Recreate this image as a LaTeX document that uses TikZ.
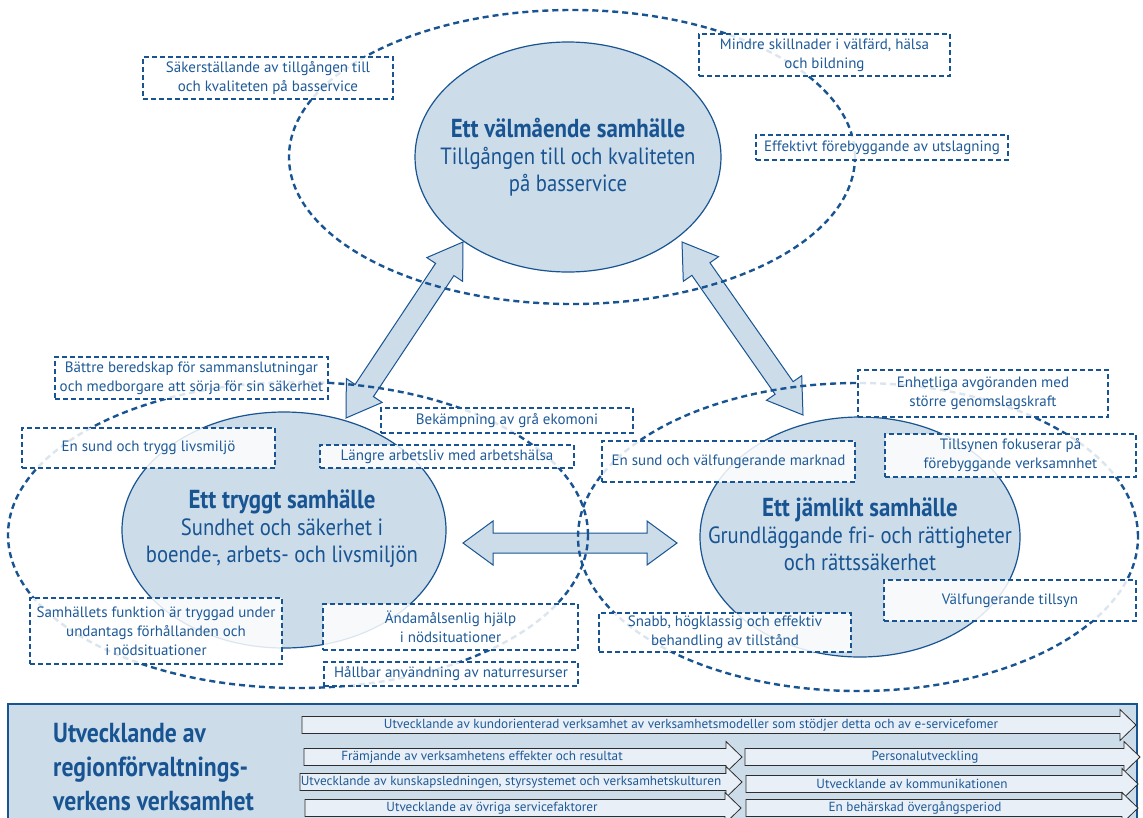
\documentclass[tikz,border=0pt]{standalone}
\usepackage{fontspec}
\setmainfont{PT Sans}
\newfontfamily\condfont[FakeStretch=0.88]{PT Sans}
\newfontfamily\narrowfont[FakeStretch=0.86]{PT Sans}
\usetikzlibrary{shapes.geometric,calc}
\definecolor{dblue}{RGB}{24,84,146}
\definecolor{tblue}{RGB}{30,90,152}
\definecolor{efill}{RGB}{204,220,233}
\definecolor{afill}{RGB}{233,239,246}
\definecolor{aline}{RGB}{45,45,45}
\tikzset{
 bigell/.style={ellipse, draw=dblue, line width=1.2pt, fill=efill, inner sep=0pt},
 dashell/.style={ellipse, draw=dblue, line width=2.4pt, dash pattern=on 6pt off 4pt, inner sep=0pt},
 dbox/.style={draw=dblue, line width=2.2pt, dash pattern=on 5pt off 3pt, fill=white, fill opacity=0.85, text opacity=1, text=tblue, font=\fontsize{15}{19}\selectfont, align=center, inner sep=0pt},
 etitle/.style={text=dblue, align=center, inner sep=0pt, font=\condfont\fontsize{23.5}{27}\selectfont},
 bigarrow/.style={draw=dblue, line width=1pt, fill=efill},
 barrow/.style={draw=aline, line width=0.8pt, fill=afill},
 btext/.style={text=tblue, font=\fontsize{13.2}{14}\selectfont, inner sep=0pt},
}
\newcommand\ttl[1]{\bfseries\fontsize{26}{30}\selectfont #1\\[0pt]\mdseries\fontsize{23.5}{27}\selectfont}
\newcommand\dblarrow[5]{% tipA, tipB, head length, head half width, shaft half width
 \draw[bigarrow] (#1)
  -- ($(#1)!#3!(#2)!#4!90:(#2)$) -- ($(#1)!#3!(#2)!#5!90:(#2)$)
  -- ($(#2)!#3!(#1)!#5!-90:(#1)$) -- ($(#2)!#3!(#1)!#4!-90:(#1)$)
  -- (#2)
  -- ($(#2)!#3!(#1)!#4!90:(#1)$) -- ($(#2)!#3!(#1)!#5!90:(#1)$)
  -- ($(#1)!#3!(#2)!#5!-90:(#2)$) -- ($(#1)!#3!(#2)!#4!-90:(#2)$)
  -- cycle;}
\newcommand\barr[6]{% name, x start, x tip, y centre, text x, text
 \draw[barrow] (#2,#4-8.5) -- (#3-16,#4-8.5) -- (#3-16,#4-15.5) -- (#3,#4)
  -- (#3-16,#4+15.5) -- (#3-16,#4+8.5) -- (#2,#4+8.5) -- cycle;
 \node[btext] (#1) at (#5,#4) {#6};}
\begin{document}
\begin{tikzpicture}[x=1pt,y=-1pt]
\useasboundingbox (0,0) rectangle (1143,817);
\fill[white] (0,0) rectangle (1143,817);

% filled ellipses
\node[bigell, minimum width=306pt, minimum height=230pt] (top) at (568,157) {};
\node[bigell, minimum width=324pt, minimum height=236pt] (left) at (284,530) {};
\node[bigell, minimum width=320pt, minimum height=240pt] (right) at (860,537) {};

% big double arrows
\coordinate (tl) at (463,242);
\coordinate (lt) at (346,418);
\coordinate (tr) at (682,242);
\coordinate (rt) at (803,415);
\coordinate (lr) at (463,543);
\coordinate (rl) at (677,543);
\dblarrow{tl}{lt}{33pt}{21.5pt}{11pt}
\dblarrow{tr}{rt}{33pt}{21.5pt}{11pt}
\dblarrow{lr}{rl}{30pt}{22pt}{10pt}

% dashed ellipses
\node[dashell, minimum width=566pt, minimum height=294pt] (topd) at (572,157) {};
\node[dashell, minimum width=580pt, minimum height=306pt] (leftd) at (298,535) {};
\node[dashell, minimum width=560pt, minimum height=308pt] (rightd) at (858,537) {};

% ellipse texts
\node[etitle] (toptext) at (568,157) {\ttl{Ett välmående samhälle}Tillgången till och kvaliteten\\ på basservice};
\node[etitle] (lefttext) at (282,529) {\ttl{Ett tryggt samhälle}Sundhet och säkerhet i\\ boende-, arbets- och livsmiljön};
\node[etitle] (righttext) at (860,534) {\ttl{Ett jämlikt samhälle}Grundläggande fri- och rättigheter\\ och rättssäkerhet};

% dashed boxes
\node[dbox, minimum width=250pt, minimum height=42pt] (sak) at (268,78) {Säkerställande av tillgången till\\och kvaliteten på basservice};
\node[dbox, minimum width=251pt, minimum height=42pt] (mindre) at (824.5,55) {Mindre skillnader i välfärd, hälsa\\och bildning};
\node[dbox, minimum width=252pt, minimum height=25pt] (eff) at (882,147.5) {Effektivt förebyggande av utslagning};
\node[dbox, minimum width=273pt, minimum height=42pt] (battre) at (191.5,378) {Bättre beredskap för sammanslutningar\\och medborgare att sörja för sin säkerhet};
\node[dbox, minimum width=252pt, minimum height=25pt] (bekamp) at (507,420.5) {Bekämpning av grå ekomoni};
\node[dbox, minimum width=253pt, minimum height=40pt] (ensund) at (148.5,448) {En sund och trygg livsmiljö};
\node[dbox, minimum width=254pt, minimum height=23pt] (langre) at (447,456.5) {Längre arbetsliv med arbetshälsa};
\node[dbox, minimum width=252pt, minimum height=66pt] (samh) at (156,631) {Samhällets funktion är tryggad under\\undantags förhållanden och\\i nödsituationer};
\node[dbox, minimum width=255pt, minimum height=46pt] (andam) at (450.5,627) {Ändamålsenlig hjälp\\i nödsituationer};
\node[dbox, minimum width=254pt, minimum height=24pt] (hallbar) at (451,674) {Hållbar användning av naturresurser};
\node[dbox, minimum width=250pt, minimum height=47pt] (enhet) at (983,393.5) {Enhetliga avgöranden med\\större genomslagskraft};
\node[dbox, minimum width=253pt, minimum height=41pt] (marknad) at (728.5,461.5) {En sund och välfungerande marknad};
\node[dbox, minimum width=251pt, minimum height=43pt] (tillsyn) at (1010.5,455.5) {Tillsynen fokuserar på\\förebyggande verksamnhet};
\node[dbox, minimum width=252pt, minimum height=41pt] (valf) at (1010,600.5) {Välfungerande tillsyn};
\node[dbox, minimum width=252pt, minimum height=39pt] (snabb) at (725,632.5) {Snabb, högklassig och effektiv\\behandling av tillstånd};

% bottom panel
\draw[draw=dblue, fill=efill, line width=1.2pt] (8,704) rectangle (1137,830);
\node[text=dblue, align=left, anchor=west, inner sep=0pt, font=\narrowfont\bfseries\fontsize{27.5}{34}\selectfont] (btitle) at (53,767) {Utvecklande av\\regionförvaltnings-\\verkens verksamhet};
\barr{b1}{302}{1136}{725}{691}{Utvecklande av kundorienterad verksamhet av verksamhetsmodeller som stödjer detta och av e-servicefomer}
\barr{b2}{304}{742}{757}{482}{Främjande av verksamhetens effekter och resultat}
\barr{b3}{745}{1140}{757}{925}{Personalutveckling}
\barr{b4}{300}{742}{782}{511}{Utvecklande av kunskapsledningen, styrsystemet och verksamhetskulturen}
\barr{b5}{746}{1138}{784}{912}{Utvecklande av kommunikationen}
\barr{b6}{305}{741}{808}{492}{Utvecklande av övriga servicefaktorer}
\barr{b7}{746}{1138}{808}{915}{En behärskad övergångsperiod}
\end{tikzpicture}
\end{document}
